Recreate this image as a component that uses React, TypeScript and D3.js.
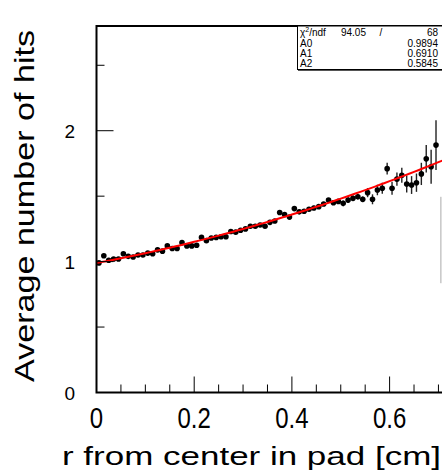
import { useEffect, useRef } from "react"
import * as d3 from "d3"

// bin centres, r from pad centre [cm]
const rValues = [
  0.005, 0.015, 0.025, 0.035, 0.045, 0.055, 0.065, 0.075, 0.085, 0.095,
  0.105, 0.115, 0.125, 0.135, 0.145, 0.155, 0.165, 0.175, 0.185, 0.195,
  0.205, 0.215, 0.225, 0.235, 0.245, 0.255, 0.265, 0.275, 0.285, 0.295,
  0.305, 0.315, 0.325, 0.335, 0.345, 0.355, 0.365, 0.375, 0.385, 0.395,
  0.405, 0.415, 0.425, 0.435, 0.445, 0.455, 0.465, 0.475, 0.485, 0.495,
  0.505, 0.515, 0.525, 0.535, 0.545, 0.555, 0.565, 0.575, 0.585, 0.595,
  0.605, 0.615, 0.625, 0.635, 0.645, 0.655, 0.665, 0.675, 0.685, 0.695,
  0.705,
]

const avgHits = [
  0.99, 1.045, 1.01, 1.02, 1.02, 1.06, 1.04, 1.035, 1.05, 1.05,
  1.065, 1.06, 1.09, 1.08, 1.12, 1.1, 1.1, 1.145, 1.12, 1.12,
  1.125, 1.185, 1.16, 1.18, 1.185, 1.19, 1.19, 1.23, 1.225, 1.24,
  1.25, 1.27, 1.27, 1.28, 1.27, 1.3, 1.31, 1.375, 1.36, 1.34,
  1.405, 1.38, 1.385, 1.4, 1.41, 1.42, 1.44, 1.47, 1.45, 1.46,
  1.445, 1.47, 1.484, 1.496, 1.476, 1.527, 1.476, 1.547, 1.56, 1.71,
  1.56, 1.63, 1.66, 1.593, 1.585, 1.603, 1.67, 1.785, 1.725, 1.89,
  1.165,
]

const hitErrors = [
  0.01, 0.01, 0.01, 0.01, 0.01, 0.01, 0.01, 0.01, 0.01, 0.01,
  0.01, 0.01, 0.01, 0.01, 0.01, 0.01, 0.01, 0.01, 0.01, 0.01,
  0.012, 0.012, 0.012, 0.012, 0.012, 0.012, 0.012, 0.012, 0.012, 0.012,
  0.012, 0.012, 0.012, 0.012, 0.012, 0.012, 0.012, 0.012, 0.012, 0.012,
  0.016, 0.016, 0.016, 0.016, 0.016, 0.016, 0.016, 0.016, 0.016, 0.016,
  0.022, 0.022, 0.022, 0.022, 0.022, 0.035, 0.038, 0.04, 0.042, 0.045,
  0.05, 0.05, 0.058, 0.065, 0.068, 0.07, 0.085, 0.105, 0.13, 0.19,
  0.33,
]

// fit p0 + p1*r + p2*r^2
const fitNames = ["A0", "A1", "A2"]
const fitParams = [0.9894, 0.691, 0.5845]
const chi2 = "94.05"
const ndf = "68"

const xMajor = [0, 0.2, 0.4, 0.6, 0.8]
const xLabels = ["0", "0.2", "0.4", "0.6"]
const xMinor = [0.05, 0.1, 0.15, 0.25, 0.3, 0.35, 0.45, 0.5, 0.55, 0.65, 0.7, 0.75]
const yMajor = [0, 1, 2]
const yMinor = [0.5, 1.5, 2.5]

export default function App() {
  const ref = useRef<SVGSVGElement>(null)

  useEffect(() => {
    const node = ref.current
    if (!node || node.childElementCount > 0) return
    const svg = d3.select(node)

    const x = d3.scaleLinear().domain([0, 0.8]).range([96.5, 96.5 + 0.8 * 488.5])
    const y = d3.scaleLinear().domain([0, 2.8]).range([392.5, 26])
    const sans = "'Liberation Sans', Arial, sans-serif"

    const data = rValues.map((r, i) => ({ r, v: avgHits[i], e: hitErrors[i] }))
    const last = data.length - 1

    // error bars + markers (last bin sits on the pad edge, only its bar shows)
    svg
      .append("g")
      .selectAll("line")
      .data(data)
      .enter()
      .append("line")
      .attr("x1", (d) => x(d.r))
      .attr("x2", (d) => x(d.r))
      .attr("y1", (d) => y(d.v - d.e))
      .attr("y2", (d) => y(d.v + d.e))
      .attr("stroke", (d, i) => (i === last ? "#aaa" : "#222"))
      .attr("stroke-width", (d, i) => (i === last ? 1 : 1.4))

    svg
      .append("g")
      .selectAll("circle")
      .data(data.slice(0, last))
      .enter()
      .append("circle")
      .attr("cx", (d) => x(d.r))
      .attr("cy", (d) => y(d.v))
      .attr("r", 2.8)
      .attr("fill", "#000")

    // fit curve
    const fit = (r: number) => fitParams[0] + fitParams[1] * r + fitParams[2] * r * r
    const line = d3
      .line<number>()
      .x((r) => x(r))
      .y((r) => y(fit(r)))
    svg
      .append("path")
      .attr("d", line(d3.range(0, 0.801, 0.01)))
      .attr("fill", "none")
      .attr("stroke", "#ff0000")
      .attr("stroke-width", 2)

    // frame
    svg
      .append("rect")
      .attr("x", x(0))
      .attr("y", y(2.8))
      .attr("width", x(0.8) - x(0))
      .attr("height", y(0) - y(2.8))
      .attr("fill", "none")
      .attr("stroke", "#000")
      .attr("stroke-width", 2)

    // ticks
    const ticks = svg.append("g").attr("stroke", "#000").attr("stroke-width", 1)
    xMajor.forEach((t) =>
      ticks.append("line").attr("x1", x(t)).attr("x2", x(t)).attr("y1", y(0)).attr("y2", y(0) - 16)
    )
    xMinor.forEach((t) =>
      ticks.append("line").attr("x1", x(t)).attr("x2", x(t)).attr("y1", y(0)).attr("y2", y(0) - 8)
    )
    yMajor.forEach((t) =>
      ticks.append("line").attr("x1", x(0)).attr("x2", x(0) + 17).attr("y1", y(t)).attr("y2", y(t))
    )
    yMinor.forEach((t) =>
      ticks.append("line").attr("x1", x(0)).attr("x2", x(0) + 8).attr("y1", y(t)).attr("y2", y(t))
    )

    // tick labels
    svg
      .append("g")
      .selectAll("text")
      .data(yMajor)
      .enter()
      .append("text")
      .attr("x", 75)
      .attr("y", (d) => y(d) + 7)
      .attr("text-anchor", "end")
      .attr("font-family", sans)
      .attr("font-size", 19)
      .text((d) => String(d))

    svg
      .append("g")
      .selectAll("text")
      .data(xLabels)
      .enter()
      .append("text")
      .attr("transform", (d) => `translate(${x(+d)},428) scale(1,1.2)`)
      .attr("text-anchor", "middle")
      .attr("font-family", sans)
      .attr("font-size", 24)
      .text((d) => d)

    // axis titles
    svg
      .append("text")
      .attr("x", 62)
      .attr("y", 465)
      .attr("font-family", sans)
      .attr("font-size", 26)
      .attr("textLength", 379)
      .attr("lengthAdjust", "spacingAndGlyphs")
      .text("r from center in pad [cm]")

    svg
      .append("text")
      .attr("transform", "translate(34,206) rotate(-90)")
      .attr("text-anchor", "middle")
      .attr("font-family", sans)
      .attr("font-size", 28)
      .attr("textLength", 352)
      .attr("lengthAdjust", "spacingAndGlyphs")
      .text("Average number of hits")

    // stats box
    const box = svg.append("g")
    box
      .append("rect")
      .attr("x", 297.5)
      .attr("y", 26)
      .attr("width", 160)
      .attr("height", 43.5)
      .attr("fill", "#fff")
      .attr("stroke", "#000")
      .attr("stroke-width", 1)
    box
      .append("line")
      .attr("x1", 298)
      .attr("x2", 460)
      .attr("y1", 70.5)
      .attr("y2", 70.5)
      .attr("stroke", "#555")
      .attr("stroke-width", 1)

    const rowY = [36, 46.5, 57, 67]
    const fs = 10
    const chiRow = box
      .append("text")
      .attr("x", 300)
      .attr("y", rowY[0])
      .attr("font-family", sans)
      .attr("font-size", fs)
    chiRow.append("tspan").text("χ")
    chiRow.append("tspan").attr("dy", -4).attr("font-size", 7).text("2")
    chiRow.append("tspan").attr("dy", 4).text("/ndf")
    box
      .append("text")
      .attr("x", 366)
      .attr("y", rowY[0])
      .attr("text-anchor", "end")
      .attr("font-family", sans)
      .attr("font-size", fs)
      .text(chi2)
    box
      .append("text")
      .attr("x", 381)
      .attr("y", rowY[0])
      .attr("text-anchor", "middle")
      .attr("font-family", sans)
      .attr("font-size", fs)
      .text("/")
    box
      .append("text")
      .attr("x", 438)
      .attr("y", rowY[0])
      .attr("text-anchor", "end")
      .attr("font-family", sans)
      .attr("font-size", fs)
      .text(ndf)

    fitNames.forEach((name, i) => {
      box
        .append("text")
        .attr("x", 300)
        .attr("y", rowY[i + 1])
        .attr("font-family", sans)
        .attr("font-size", fs)
        .text(name)
      box
        .append("text")
        .attr("x", 438)
        .attr("y", rowY[i + 1])
        .attr("text-anchor", "end")
        .attr("font-family", sans)
        .attr("font-size", fs)
        .text(fitParams[i].toFixed(4))
    })
  }, [])

  return (
    <svg
      ref={ref}
      width={442}
      height={472}
      style={{ position: "absolute", left: 0, top: 0, background: "#fff" }}
    />
  )
}
